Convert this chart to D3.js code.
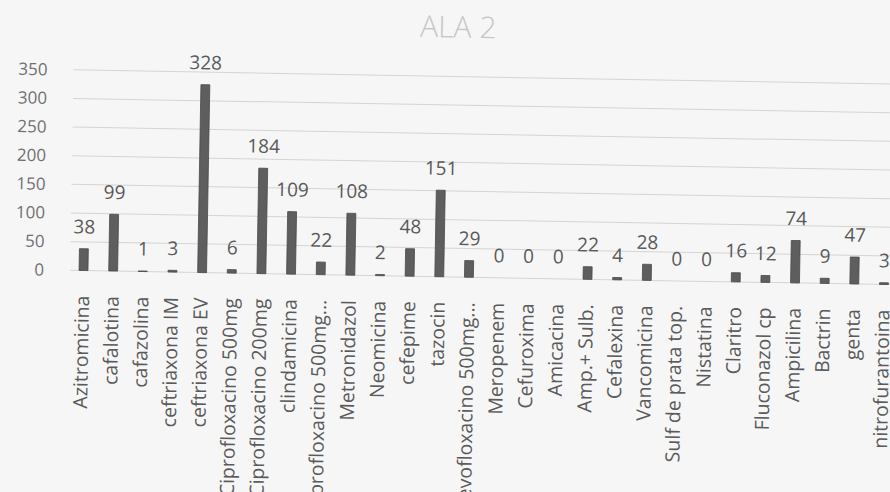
<!DOCTYPE html>
<html>
<head>
<meta charset="utf-8">
<script src="https://cdn.jsdelivr.net/npm/d3@7"></script>
<style>
  html, body { margin: 0; padding: 0; background: #f6f6f6; }
  svg { display: block; }
</style>
</head>
<body>
<svg id="chart" width="890" height="492"></svg>
<script>
const title = "ALA 2";
const categories = [
  "Azitromicina", "cafalotina", "cafazolina", "ceftriaxona IM", "ceftriaxona EV",
  "Ciprofloxacino 500mg", "Ciprofloxacino 200mg", "clindamicina", "Ciprofloxacino 500mg...",
  "Metronidazol", "Neomicina", "cefepime", "tazocin", "Levofloxacino 500mg...",
  "Meropenem", "Cefuroxima", "Amicacina", "Amp.+ Sulb.", "Cefalexina", "Vancomicina",
  "Sulf de prata top.", "Nistatina", "Claritro", "Fluconazol cp", "Ampicilina",
  "Bactrin", "genta", "nitrofurantoina"
];
const values = [38, 99, 1, 3, 328, 6, 184, 109, 22, 108, 2, 48, 151, 29, 0, 0, 0, 22, 4, 28, 0, 0, 16, 12, 74, 9, 47, 3];
const yTicks = [0, 50, 100, 150, 200, 250, 300, 350];

const svg = d3.select("#chart");
const g = svg.append("g").attr("transform", "rotate(1.0, 83, 270)");

const x = d3.scaleBand().domain(categories).range([68.7, 898.9]).paddingInner(0.7).paddingOuter(0.35);
const y = d3.scaleLinear().domain([0, 350]).range([270.5, 70]);

// title
g.append("text").attr("x", 454).attr("y", 31).attr("text-anchor", "middle")
  .attr("font-family", "Open Sans").attr("font-weight", 300).attr("font-size", 30)
  .attr("fill", "#c6c6c6").text(title);

// gridlines
g.append("g").selectAll("line").data(yTicks).join("line")
  .attr("x1", 70).attr("x2", 900)
  .attr("y1", d => y(d)).attr("y2", d => y(d))
  .attr("stroke", "#d4d4d4").attr("stroke-width", 1);

// y axis labels
const yAxis = d3.axisLeft(y).tickValues(yTicks).tickSize(0).tickPadding(0);
const ya = g.append("g").attr("transform", "translate(44,0)").call(yAxis);
ya.select(".domain").remove();
ya.selectAll("text").attr("font-family", "Open Sans").attr("font-size", 17).attr("fill", "#707070");

// bars
g.append("g").selectAll("rect").data(values).join("rect")
  .attr("x", (d, i) => x(categories[i]))
  .attr("width", x.bandwidth())
  .attr("y", d => y(d))
  .attr("height", d => Math.max(0, y(0) - y(d)))
  .attr("fill", "#5e5e5e").attr("stroke", "#4a4a4a").attr("stroke-width", 0.8);

// value labels
g.append("g").selectAll("text").data(values).join("text")
  .attr("x", (d, i) => x(categories[i]) + x.bandwidth() / 2)
  .attr("y", d => y(d) - 22)
  .attr("dy", "0.35em")
  .attr("text-anchor", "middle")
  .attr("font-family", "Open Sans").attr("font-size", 19).attr("fill", "#5a5a5a")
  .text(d => d);

// category labels
const xAxis = d3.axisBottom(x).tickSize(0).tickPadding(0);
const xa = g.append("g").attr("transform", "translate(0,270.5)").call(xAxis);
xa.select(".domain").remove();
xa.selectAll("text")
  .attr("font-family", "Open Sans").attr("font-size", 19.5).attr("fill", "#5a5a5a")
  .attr("text-anchor", "end")
  .attr("dy", null).attr("y", null)
  .attr("transform", "translate(-1.5,25) rotate(-90)")
  .attr("dominant-baseline", "central");
</script>
</body>
</html>
